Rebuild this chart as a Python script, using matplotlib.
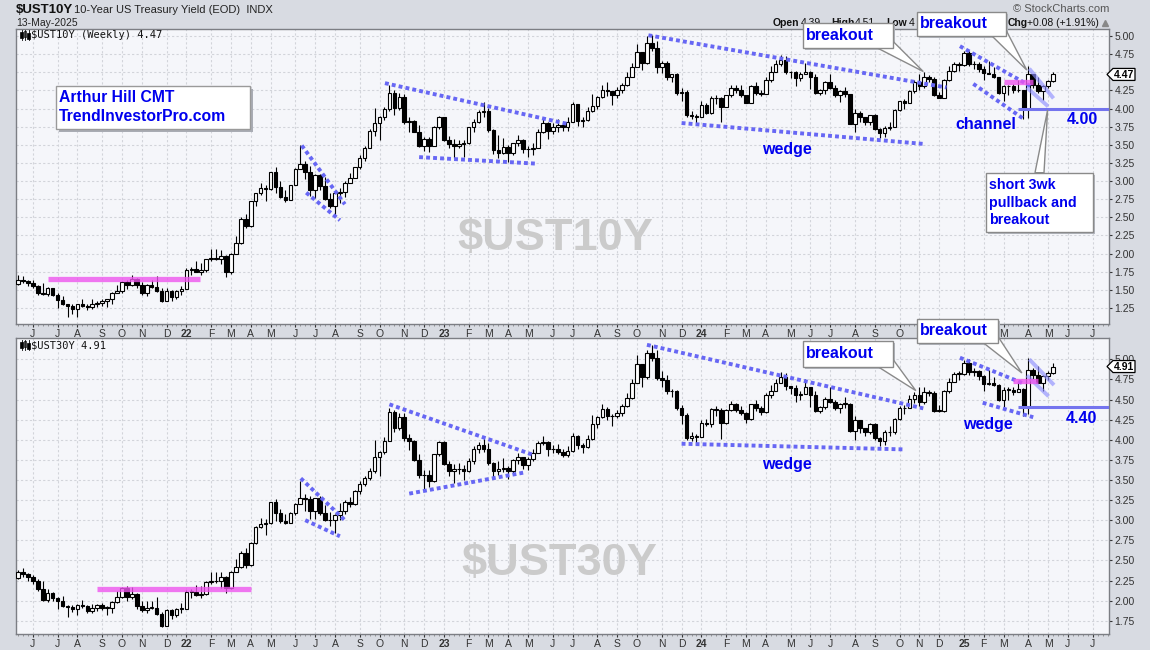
import numpy as np
import pandas as pd
import matplotlib
matplotlib.use("Agg")
import matplotlib.pyplot as plt
from matplotlib.patches import Rectangle, Polygon
from pandas.tseries.holiday import USFederalHolidayCalendar

plt.rcParams['font.family'] = ['Liberation Sans', 'DejaVu Sans']

# ---------------- data (weekly bars, week starting Monday) ----------------
first_week = '2021-05-10'
n_axis_weeks = 221          # bars + empty space to the right edge

ust10_open0 = 1.58
ust10_close = [1.63,1.62,1.59,1.55,1.45,1.44,1.52,1.43,1.36,1.30,
 1.28,1.24,1.30,1.28,1.26,1.31,1.32,1.34,1.37,1.46,
 1.48,1.61,1.57,1.65,1.56,1.45,1.56,1.54,1.48,1.35,
 1.48,1.40,1.49,1.51,
 1.77,1.79,1.75,1.78,1.93,1.94,1.93,1.97,1.74,2.00,
 2.15,2.48,2.38,2.72,2.83,2.90,2.89,3.13,2.92,2.78,
 2.74,2.94,3.16,3.23,3.13,2.88,3.08,2.93,2.75,2.65,
 2.83,2.85,2.98,3.04,3.19,3.32,3.45,3.69,3.80,3.89,
 4.00,4.21,4.01,4.16,3.81,3.83,3.68,3.49,3.58,3.48,
 3.75,3.88,
 3.56,3.51,3.48,3.51,3.53,3.74,3.82,3.95,3.96,3.70,
 3.43,3.38,3.47,3.39,3.52,3.57,3.44,3.44,3.46,3.68,
 3.80,3.69,3.74,3.77,3.74,3.81,4.06,3.83,3.84,3.96,
 4.04,4.16,4.25,4.24,4.18,4.26,4.33,4.44,4.57,4.78,
 4.63,4.91,4.84,4.57,4.63,4.44,4.47,4.22,4.23,3.91,
 3.90,3.88,
 4.05,3.94,4.15,4.14,4.02,4.18,4.28,4.25,4.18,4.08,
 4.31,4.22,4.20,4.39,4.50,4.62,4.67,4.50,4.50,4.42,
 4.47,4.51,4.43,4.22,4.26,4.36,4.28,4.18,4.24,4.20,
 3.79,3.94,3.89,3.81,3.91,3.72,3.66,3.73,3.75,3.98,
 4.10,4.08,4.24,4.37,4.31,4.43,4.41,4.18,4.15,4.40,
 4.52,4.62,
 4.60,4.77,4.61,4.62,4.54,4.49,4.48,4.43,4.21,4.31,
 4.31,4.25,4.25,4.00,4.48,4.33,4.24,4.31,4.38,4.47]
ust10_high = [1.70,1.69,1.63,1.64,1.57,1.59,1.54,1.52,1.45,1.42,
 1.30,1.30,1.31,1.38,1.30,1.37,1.34,1.38,1.38,1.47,
 1.57,1.62,1.63,1.70,1.67,1.61,1.58,1.64,1.69,1.52,
 1.53,1.50,1.50,1.55,
 1.80,1.81,1.90,1.87,1.93,2.06,2.06,2.05,1.98,2.01,
 2.24,2.50,2.55,2.73,2.84,2.98,2.95,3.13,3.20,3.00,
 2.88,2.95,3.18,3.50,3.28,3.21,3.10,3.10,3.05,2.84,
 2.85,2.90,3.00,3.11,3.20,3.36,3.49,3.72,4.01,3.90,
 4.02,4.33,4.26,4.22,4.20,3.89,3.84,3.77,3.61,3.61,
 3.76,3.90,
 3.89,3.62,3.58,3.57,3.57,3.75,3.86,3.98,4.09,4.01,
 3.72,3.64,3.60,3.50,3.53,3.64,3.58,3.49,3.53,3.72,
 3.86,3.82,3.80,3.85,3.80,3.88,4.09,4.06,3.88,4.02,
 4.20,4.17,4.33,4.36,4.24,4.30,4.35,4.51,4.63,4.89,
 4.78,5.00,5.02,4.93,4.66,4.66,4.48,4.49,4.28,4.25,
 3.97,3.92,
 4.10,4.08,4.17,4.19,4.16,4.19,4.33,4.33,4.32,4.19,
 4.33,4.36,4.25,4.43,4.58,4.67,4.74,4.72,4.52,4.52,
 4.50,4.63,4.52,4.48,4.27,4.38,4.48,4.33,4.25,4.30,
 4.20,3.99,3.96,3.89,3.91,3.92,3.73,3.76,3.81,3.99,
 4.11,4.13,4.26,4.39,4.48,4.50,4.46,4.43,4.23,4.41,
 4.59,4.64,
 4.64,4.79,4.80,4.66,4.64,4.58,4.66,4.57,4.43,4.33,
 4.33,4.34,4.40,4.26,4.59,4.48,4.44,4.33,4.40,4.51]
ust10_low = [1.56,1.59,1.55,1.53,1.43,1.43,1.41,1.42,1.25,1.29,
 1.13,1.17,1.13,1.26,1.22,1.24,1.26,1.28,1.27,1.30,
 1.45,1.46,1.51,1.55,1.52,1.43,1.42,1.52,1.47,1.33,
 1.34,1.35,1.37,1.43,
 1.51,1.70,1.74,1.71,1.75,1.90,1.91,1.85,1.68,1.72,
 2.00,2.13,2.35,2.36,2.66,2.81,2.72,2.88,2.84,2.76,
 2.71,2.74,2.94,3.16,3.03,2.79,2.77,2.87,2.74,2.63,
 2.52,2.70,2.78,2.98,3.04,3.17,3.27,3.45,3.62,3.57,
 3.84,3.97,3.91,3.98,3.79,3.67,3.67,3.47,3.41,3.40,
 3.48,3.72,
 3.55,3.45,3.32,3.45,3.33,3.51,3.68,3.80,3.88,3.68,
 3.37,3.32,3.37,3.26,3.36,3.48,3.38,3.33,3.36,3.45,
 3.66,3.58,3.65,3.68,3.69,3.69,3.81,3.76,3.74,3.83,
 3.95,3.99,4.15,4.17,4.05,4.15,4.21,4.31,4.43,4.57,
 4.53,4.62,4.80,4.49,4.49,4.40,4.37,4.19,4.10,3.89,
 3.85,3.78,
 3.88,3.92,3.93,4.06,3.82,4.02,4.16,4.22,4.16,4.07,
 4.08,4.18,4.17,4.20,4.36,4.50,4.59,4.48,4.42,4.31,
 4.38,4.47,4.27,4.20,4.18,4.20,4.27,4.16,4.09,4.16,
 3.78,3.67,3.82,3.77,3.77,3.70,3.60,3.61,3.71,3.74,
 3.97,4.00,4.08,4.22,4.25,4.28,4.37,4.17,4.15,4.14,
 4.38,4.50,
 4.52,4.59,4.59,4.55,4.50,4.40,4.47,4.42,4.20,4.10,
 4.18,4.21,4.23,3.86,3.87,4.28,4.21,4.12,4.28,4.36]

ust30_open0 = 2.28
ust30_close = [2.35,2.33,2.29,2.24,2.15,2.01,2.10,2.03,1.99,1.93,
 1.92,1.89,1.94,1.93,1.87,1.91,1.94,1.91,1.91,1.98,
 2.04,2.16,2.04,2.08,1.93,1.88,1.91,1.91,1.83,1.69,
 1.88,1.82,1.90,1.90,
 2.11,2.11,2.07,2.08,2.23,2.24,2.25,2.29,2.16,2.36,
 2.42,2.59,2.44,2.72,2.92,2.95,2.96,3.23,3.09,2.99,
 2.97,3.09,3.20,3.28,3.26,3.11,3.27,3.09,3.00,3.00,
 3.07,3.12,3.23,3.20,3.36,3.45,3.52,3.61,3.79,3.85,
 3.99,4.34,4.15,4.28,4.02,3.99,3.75,3.56,3.56,3.49,
 3.82,3.97,
 3.70,3.61,3.63,3.64,3.61,3.74,3.88,3.94,3.88,3.71,
 3.61,3.63,3.65,3.61,3.75,3.78,3.68,3.76,3.84,3.96,
 3.97,3.88,3.89,3.85,3.81,3.86,4.05,3.93,3.91,4.01,
 4.20,4.28,4.38,4.29,4.29,4.33,4.42,4.52,4.70,4.94,
 4.78,5.08,5.02,4.77,4.74,4.60,4.60,4.40,4.31,4.02,
 4.05,4.03,
 4.21,4.19,4.38,4.37,4.21,4.37,4.44,4.37,4.33,4.26,
 4.44,4.40,4.34,4.55,4.61,4.71,4.78,4.67,4.64,4.56,
 4.57,4.65,4.55,4.36,4.41,4.51,4.47,4.39,4.45,4.45,
 4.11,4.24,4.14,4.09,4.20,4.02,3.98,4.09,4.09,4.26,
 4.40,4.39,4.51,4.55,4.47,4.59,4.58,4.36,4.36,4.61,
 4.72,4.82,
 4.82,4.96,4.84,4.85,4.79,4.69,4.70,4.68,4.49,4.62,
 4.62,4.59,4.63,4.41,4.87,4.80,4.71,4.79,4.83,4.91]
ust30_high = [2.38,2.40,2.34,2.32,2.27,2.25,2.14,2.11,2.05,2.06,
 1.95,1.95,1.96,2.01,1.94,1.96,1.96,1.97,1.93,1.99,
 2.12,2.17,2.18,2.17,2.10,2.00,2.00,1.99,2.04,1.86,
 1.90,1.89,1.91,1.97,
 2.13,2.14,2.19,2.18,2.25,2.36,2.36,2.36,2.31,2.37,
 2.52,2.62,2.66,2.73,2.93,3.03,3.01,3.23,3.26,3.14,
 3.08,3.10,3.21,3.49,3.33,3.30,3.28,3.30,3.19,3.10,
 3.08,3.21,3.25,3.29,3.37,3.49,3.55,3.65,4.00,3.86,
 4.03,4.40,4.37,4.33,4.33,4.07,4.00,3.82,3.62,3.62,
 3.82,3.98,
 3.98,3.73,3.70,3.71,3.68,3.77,3.92,3.97,4.05,3.96,
 3.72,3.74,3.77,3.67,3.76,3.83,3.79,3.78,3.88,3.98,
 4.05,3.99,3.94,3.95,3.88,3.92,4.08,4.06,3.96,4.06,
 4.31,4.29,4.45,4.41,4.32,4.37,4.44,4.58,4.75,5.05,
 4.94,5.12,5.18,5.11,4.86,4.81,4.63,4.62,4.43,4.33,
 4.10,4.07,
 4.24,4.26,4.40,4.42,4.39,4.38,4.48,4.46,4.42,4.34,
 4.45,4.49,4.42,4.58,4.68,4.76,4.84,4.83,4.67,4.68,
 4.60,4.76,4.65,4.60,4.42,4.53,4.65,4.49,4.46,4.53,
 4.46,4.30,4.24,4.15,4.21,4.21,4.04,4.12,4.17,4.27,
 4.42,4.43,4.55,4.59,4.66,4.66,4.62,4.60,4.43,4.62,
 4.77,4.84,
 4.86,4.99,5.00,4.89,4.87,4.81,4.87,4.78,4.69,4.65,
 4.65,4.66,4.73,4.64,5.02,4.89,4.92,4.80,4.85,4.96]
ust30_low = [2.27,2.29,2.25,2.21,2.12,2.00,1.98,2.00,1.90,1.92,
 1.80,1.86,1.82,1.91,1.84,1.85,1.87,1.88,1.82,1.84,
 1.97,2.03,2.00,2.02,1.90,1.86,1.85,1.89,1.82,1.67,
 1.68,1.77,1.80,1.85,
 1.90,2.03,2.06,2.03,2.07,2.21,2.22,2.16,2.10,2.15,
 2.35,2.41,2.41,2.43,2.70,2.90,2.81,2.95,2.99,2.96,
 2.95,2.96,3.07,3.20,3.11,3.02,3.01,3.07,2.99,2.93,
 2.84,3.00,3.08,3.17,3.19,3.33,3.43,3.50,3.59,3.55,
 3.82,3.98,4.10,4.12,3.99,3.87,3.74,3.53,3.38,3.41,
 3.48,3.80,
 3.69,3.55,3.46,3.58,3.50,3.60,3.70,3.84,3.85,3.69,
 3.52,3.56,3.60,3.51,3.58,3.70,3.63,3.62,3.73,3.83,
 3.93,3.80,3.84,3.82,3.78,3.79,3.85,3.88,3.84,3.90,
 4.00,4.14,4.27,4.25,4.17,4.27,4.30,4.41,4.51,4.70,
 4.66,4.76,4.98,4.74,4.66,4.57,4.53,4.37,4.19,4.00,
 3.98,3.94,
 4.03,4.17,4.16,4.30,4.01,4.20,4.36,4.34,4.31,4.21,
 4.25,4.36,4.31,4.33,4.52,4.61,4.70,4.62,4.57,4.47,
 4.50,4.57,4.41,4.34,4.33,4.38,4.46,4.37,4.33,4.40,
 4.10,4.00,4.08,4.05,4.07,4.00,3.92,3.93,4.05,4.07,
 4.25,4.32,4.39,4.46,4.42,4.44,4.54,4.35,4.34,4.34,
 4.58,4.72,
 4.74,4.81,4.81,4.79,4.74,4.61,4.68,4.67,4.48,4.40,
 4.50,4.55,4.60,4.30,4.32,4.76,4.70,4.61,4.74,4.82]

# annotation lines: ((bar0, value0), (bar1, value1))
top_dotted = [((57.3, 3.49), (66.0, 2.68)), ((58.2, 2.84), (65.0, 2.46)),
              ((74.1, 4.35), (110.8, 3.79)), ((81.0, 3.33), (104.7, 3.24)),
              ((127.3, 5.01), (187.5, 4.29)), ((134.0, 3.80), (183.2, 3.51)),
              ((190.2, 4.86), (204.4, 4.31)), ((192.9, 4.34), (203.0, 3.86))]
top_light = [((204.2, 4.55), (209.1, 4.14)), ((203.7, 4.29), (208.0, 4.03))]
top_pink = [((6.1, 1.65), (36.8, 1.65)), ((199.0, 4.37), (204.9, 4.37))]
top_level = (202.0, 4.00)

bot_dotted = [((57.1, 3.52), (66.0, 3.00)), ((58.0, 3.00), (65.0, 2.80)),
              ((75.0, 4.44), (104.1, 3.81)), ((79.0, 3.33), (102.0, 3.59)),
              ((127.0, 5.18), (182.8, 4.39)), ((134.0, 3.95), (178.8, 3.88)),
              ((190.2, 5.02), (203.0, 4.70)), ((194.8, 4.46), (205.0, 4.28))]
bot_light = [((204.2, 5.00), (209.2, 4.68)), ((203.7, 4.80), (208.1, 4.54))]
bot_pink = [((16.0, 2.15), (47.1, 2.15)), ((201.0, 4.73), (206.0, 4.73))]
bot_level = (202.0, 4.41)

# ---------------- figure ----------------
W, H = 1150, 650
fig = plt.figure(figsize=(W / 100, H / 100), dpi=100)
fig.patch.set_facecolor('#D8DBE2')

ax1 = fig.add_axes([16 / W, 1 - 324 / H, 1093 / W, 295 / H])
ax2 = fig.add_axes([16 / W, 1 - 634 / H, 1093 / W, 295.7 / H])

# month ticks
mondays = pd.date_range(first_week, periods=n_axis_weeks, freq='7D')
hol = set(USFederalHolidayCalendar().holidays('2021-01-01', '2026-12-31'))
first_td = [m + pd.Timedelta(days=1) if m in hol else m for m in mondays]
tick_pos, tick_lab, tick_year = [], [], []
prev = None
for i, d in enumerate(first_td):
    key = (d.year, d.month)
    if prev is not None and key != prev:
        tick_pos.append(i)
        if d.month == 1:
            tick_lab.append(d.strftime('%y'))
            tick_year.append(True)
        else:
            tick_lab.append(d.strftime('%b')[0])
            tick_year.append(False)
    prev = key


def draw_candles(ax, open0, close, high, low):
    c = np.array(close, float)
    o = np.r_[open0, c[:-1]]
    h = np.maximum(np.array(high, float), np.maximum(o, c))
    l = np.minimum(np.array(low, float), np.minimum(o, c))
    x = np.arange(len(c))
    up = c >= o
    ax.vlines(x, l, h, color='black', lw=0.8, zorder=3)
    lo = np.minimum(o, c)
    bh = np.maximum(np.abs(c - o), 0.006)
    ax.bar(x[up], bh[up], bottom=lo[up], width=0.72, facecolor='white',
           edgecolor='black', linewidth=0.8, zorder=4)
    ax.bar(x[~up], bh[~up], bottom=lo[~up], width=0.72, facecolor='black',
           edgecolor='black', linewidth=0.8, zorder=4)


def style_axes(ax, ylim, yticks, hide_px=None):
    ax.set_facecolor('#F5F6FA')
    ax.set_xlim(-0.4, 220.3)
    ax.set_ylim(*ylim)
    ax.yaxis.tick_right()
    ax.set_yticks(yticks)
    ax.set_yticklabels(['%.2f' % v for v in yticks])
    ax.set_xticks(tick_pos)
    ax.set_xticklabels(tick_lab)
    for p, lab, yr in zip(tick_pos, ax.get_xticklabels(), tick_year):
        if yr:
            lab.set_fontweight('bold')
            lab.set_fontsize(8)
        if hide_px is not None:
            px = ax.transData.transform((p, ylim[0]))[0]
            if hide_px[0] <= px <= hide_px[1]:
                lab.set_visible(False)   # covered by the callout box
    ax.set_xticks(np.arange(0, 221), minor=True)
    ax.tick_params(axis='x', which='major', length=2, pad=1.5, labelsize=7.5,
                   colors='#333333', direction='out')
    ax.tick_params(axis='x', which='minor', length=1.5, width=0.5, color='#777777')
    ax.tick_params(axis='y', length=2, pad=2, labelsize=7.5, colors='#333333')
    ax.grid(True, which='major', color='#D2D4DA', linestyle=(0, (2, 2)), lw=0.8)
    ax.set_axisbelow(True)
    for s in ax.spines.values():
        s.set_color('#7C7E84')
        s.set_linewidth(1.0)


def draw_lines(ax, dotted, light, pink, level):
    for (x0, y0), (x1, y1) in dotted:
        ax.plot([x0, x1], [y0, y1], color='#6767F4', lw=2.8,
                linestyle=(0, (1.0, 0.8)), dash_capstyle='butt', zorder=6)
    for (x0, y0), (x1, y1) in light:
        ax.plot([x0, x1], [y0, y1], color='#8F8FFF', lw=2.8, alpha=0.65,
                solid_capstyle='butt', zorder=6)
    for (x0, y0), (x1, y1) in pink:
        ax.plot([x0, x1], [y0, y1], color='#EE55EE', lw=3.8, alpha=0.8,
                solid_capstyle='butt', zorder=6)
    ax.plot([level[0], 220.3], [level[1], level[1]], color='#7474EE', lw=2.2,
            solid_capstyle='butt', zorder=6)


draw_candles(ax1, ust10_open0, ust10_close, ust10_high, ust10_low)
draw_candles(ax2, ust30_open0, ust30_close, ust30_high, ust30_low)
style_axes(ax1, (1.029, 5.0965), np.arange(1.25, 5.01, 0.25), hide_px=(912, 1002))
style_axes(ax2, (1.585, 5.261), np.arange(1.75, 5.01, 0.25))
draw_lines(ax1, top_dotted, top_light, top_pink, top_level)
draw_lines(ax2, bot_dotted, bot_light, bot_pink, bot_level)

ax1.text(0.493, 0.2915, '$UST10Y', transform=ax1.transAxes, fontsize=32.5,
         fontweight='bold', color='#CBCBCB', ha='center', va='center', zorder=1)
ax2.text(0.497, 0.240, '$UST30Y', transform=ax2.transAxes, fontsize=32.5,
         fontweight='bold', color='#CBCBCB', ha='center', va='center', zorder=1)

# ---------------- overlay in pixel coordinates ----------------
ov = fig.add_axes([0, 0, 1, 1], zorder=10)
ov.set_xlim(0, W)
ov.set_ylim(H, 0)
ov.axis('off')
ov.patch.set_alpha(0)


def to_px(ax, x, y):
    dx, dy = ax.transData.transform((x, y))
    return dx, H - dy


BLUE = '#0000EE'

# header
ov.text(16, 10, '$UST10Y', fontsize=9.5, fontweight='bold', va='center', color='#111111')
ov.text(74, 10, '10-Year US Treasury Yield (EOD)  INDX', fontsize=8, va='center', color='#222222')
ov.text(16, 22.5, '13-May-2025', fontsize=7.5, va='center', color='#222222')
ov.text(1109, 9, '\u00a9 StockCharts.com', fontsize=8, va='center', ha='right', color='#555555')
hdr = [(772.7, 'Open', True), (800.5, '4.39', False), (831.7, 'High', True),
       (855.0, '4.51', False), (886.0, 'Low', True), (908.5, '4', False),
       (1007.5, 'Chg', True), (1027.0, '+0.08 (+1.91%)', False)]
for x, t, b in hdr:
    ov.text(x, 22.7, t, fontsize=7.5, va='center', color='#111111',
            fontweight='bold' if b else 'normal')
ov.plot([1105], [22.5], marker='^', ms=5, color='#888888')

# panel legends
for (x, y, txt) in [(31, 35, '$UST10Y (Weekly) 4.47'), (31, 345, '$UST30Y 4.91')]:
    for k, (cx, t0, t1, fill) in enumerate([(21.5, -3, 3, 'black'), (25, -4, 2, 'white'), (28.5, -2, 4, 'black')]):
        ov.plot([cx, cx], [y - 5, y + 5], color='black', lw=0.6)
        ov.add_patch(Rectangle((cx - 1.2, y + t0), 2.4, t1 - t0, fc=fill, ec='black', lw=0.5))
    ov.text(x, y, txt, fontsize=7.5, family='DejaVu Sans Mono', va='center', color='#111111')


def value_tag(ax, val, txt):
    _, py = to_px(ax, 0, val)
    x0 = 1107
    pts = [(x0, py), (x0 + 6, py - 6), (x0 + 28, py - 6), (x0 + 28, py + 6), (x0 + 6, py + 6)]
    ov.add_patch(Polygon(pts, closed=True, fc='white', ec='black', lw=0.9, zorder=22))
    ov.text(x0 + 17, py + 0.5, txt, fontsize=7.5, fontweight='bold', ha='center',
            va='center', zorder=23)


value_tag(ax1, ust10_close[-1], '%.2f' % ust10_close[-1])
value_tag(ax2, ust30_close[-1], '%.2f' % ust30_close[-1])


def callout(box, base, tip_ax, tip, lines, fs=11.5, line_h=17.5, pad=3):
    x0, y0, x1, y1 = box
    tx, ty = to_px(tip_ax, *tip)
    ov.add_patch(Rectangle((x0 + 2, y0 + 2), x1 - x0, y1 - y0, fc='#B4B7BF', ec='none', zorder=19))
    ov.add_patch(Polygon([base[0], (tx, ty), base[1]], closed=True, fc='white',
                         ec='#8A8A8A', lw=1, zorder=20))
    ov.add_patch(Rectangle((x0, y0), x1 - x0, y1 - y0, fc='white', ec='#8A8A8A', lw=1, zorder=21))
    n = len(lines)
    yc = (y0 + y1) / 2
    for k, t in enumerate(lines):
        yy = yc + (k - (n - 1) / 2) * line_h
        ov.text(x0 + pad, yy, t, fontsize=fs, fontweight='bold', color=BLUE,
                va='center', ha='left', zorder=22)


# Arthur Hill box
ov.add_patch(Rectangle((58.5, 88.5), 194.3, 43.6, fc='#A9ACB4', ec='none', zorder=19))
ov.add_patch(Rectangle((55.7, 85.7), 194.3, 43.6, fc='white', ec='#9A9A9A', lw=1, zorder=20))
ov.text(59, 97.5, 'Arthur Hill CMT', fontsize=11.3, fontweight='bold', color=BLUE, va='center', zorder=21)
ov.text(59, 116.5, 'TrendInvestorPro.com', fontsize=11.3, fontweight='bold', color=BLUE, va='center', zorder=21)

# top panel callouts and labels
callout((802.7, 23.3, 892.7, 48.3), [(878, 48.3), (892.7, 41)], ax1, (182.8, 4.51), ['breakout'])
callout((916.7, 11.7, 1006, 36), [(992, 36), (1006, 30)], ax1, (203.7, 4.53), ['breakout'])
callout((986, 172.7, 1092.7, 232.3), [(1035, 172.7), (1044, 172.7)], ax1, (207.9, 3.98),
        ['short 3wk', 'pullback and', 'breakout'], fs=10.3, line_h=17.5)
ov.text(762, 149.3, 'wedge', fontsize=11.5, fontweight='bold', color=BLUE, va='center')
ov.text(955, 124.3, 'channel', fontsize=11.5, fontweight='bold', color=BLUE, va='center')
ov.text(1066.7, 119.3, '4.00', fontsize=11.5, fontweight='bold', color=BLUE, va='center')

# bottom panel callouts and labels
callout((802.7, 341, 892.7, 366.7), [(878, 366.7), (892.7, 359)], ax2, (181.3, 4.61), ['breakout'])
callout((916.7, 318.5, 998.3, 343.3), [(984, 343.3), (998.3, 337)], ax2, (202.7, 4.83), ['breakout'])
ov.text(762, 464.3, 'wedge', fontsize=11.5, fontweight='bold', color=BLUE, va='center')
ov.text(963.3, 425, 'wedge', fontsize=11.5, fontweight='bold', color=BLUE, va='center')
ov.text(1066, 418.3, '4.40', fontsize=11.5, fontweight='bold', color=BLUE, va='center')

fig.savefig('out.png', dpi=100, facecolor=fig.get_facecolor())
